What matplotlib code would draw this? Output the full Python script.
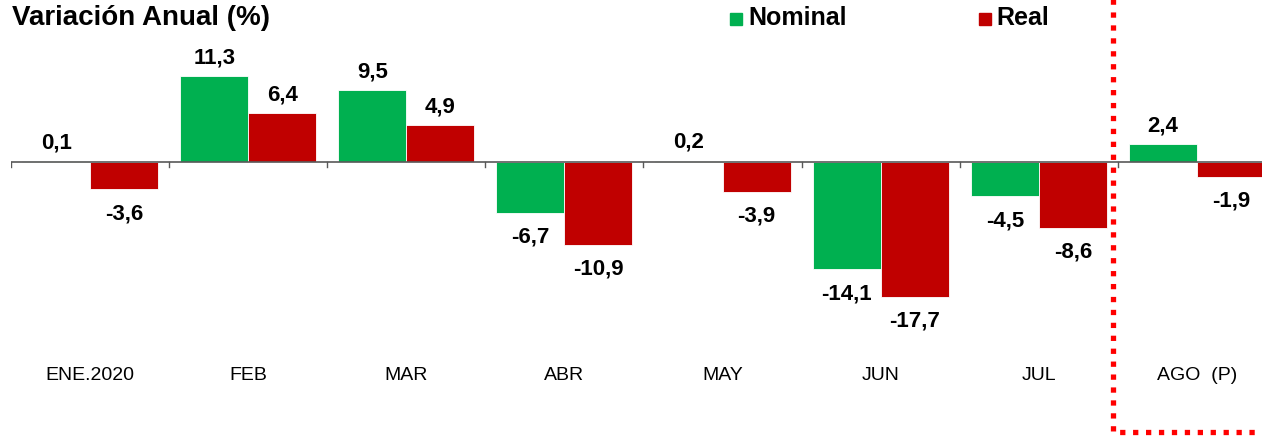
import matplotlib.pyplot as plt
import numpy as np

plt.rcParams['font.family'] = ['Liberation Sans', 'DejaVu Sans']

# Data
categories = ['ENE.2020', 'FEB', 'MAR', 'ABR', 'MAY', 'JUN', 'JUL', 'AGO  (P)']
nominal = [0.1, 11.3, 9.5, -6.7, 0.2, -14.1, -4.5, 2.4]
real = [-3.6, 6.4, 4.9, -10.9, -3.9, -17.7, -8.6, -1.9]

green = '#00B050'
red = '#C00000'

fig = plt.figure(figsize=(12.62, 4.36), dpi=100)
ax = fig.add_axes([11 / 1262, 0, 1265 / 1262, 1])

x = np.arange(len(categories))
w = 0.43
ax.bar(x - w / 2, nominal, w, color=green, edgecolor='white', linewidth=0.6)
ax.bar(x + w / 2, real, w, color=red, edgecolor='white', linewidth=0.6)

ax.set_xlim(-0.5, len(categories) - 0.5)
ax.set_ylim(-36.0, 21.3)
ax.axis('off')

# axis line with small ticks at category boundaries
ax.axhline(0, color='#595959', linewidth=1.2, zorder=3)
for b in np.arange(-0.5, len(categories), 1.0):
    ax.plot([b, b], [0, -0.6], color='#595959', linewidth=1.0, zorder=3)

# value labels
def fmt(v):
    return f'{v:.1f}'.replace('.', ',')

for xs, vals in ((x - w / 2, nominal), (x + w / 2, real)):
    for xi, v in zip(xs, vals):
        off = 2.4 if v >= 0 else -3.2
        ax.text(xi, v + off, fmt(v), ha='center', va='center', fontsize=16, fontweight='bold')

# category labels
for xi, c in zip(x, categories):
    ax.text(xi, -28.1, c, ha='center', va='center', fontsize=14)

# dotted separator for preliminary month
ax.plot([6.47, 6.47, 7.6], [21.5, -35.5, -35.5], color='#FF0000', linewidth=3.8,
        linestyle=(0, (1, 1.45)), solid_capstyle='butt', dash_capstyle='butt', clip_on=False)

# title and legend
fig.text(12 / 1262, 1 - 18 / 436, 'Variación Anual (%)', ha='left', va='center',
         fontsize=20, fontweight='bold')
fig.patches.append(plt.Rectangle((730 / 1262, 1 - 25 / 436), 12 / 1262, 12 / 436,
                                 transform=fig.transFigure, color=green, figure=fig))
fig.text(748 / 1262, 1 - 18 / 436, 'Nominal', ha='left', va='center', fontsize=18, fontweight='bold')
fig.patches.append(plt.Rectangle((979 / 1262, 1 - 25 / 436), 12 / 1262, 12 / 436,
                                 transform=fig.transFigure, color=red, figure=fig))
fig.text(996 / 1262, 1 - 18 / 436, 'Real', ha='left', va='center', fontsize=18, fontweight='bold')

fig.savefig('out.png', dpi=100)
